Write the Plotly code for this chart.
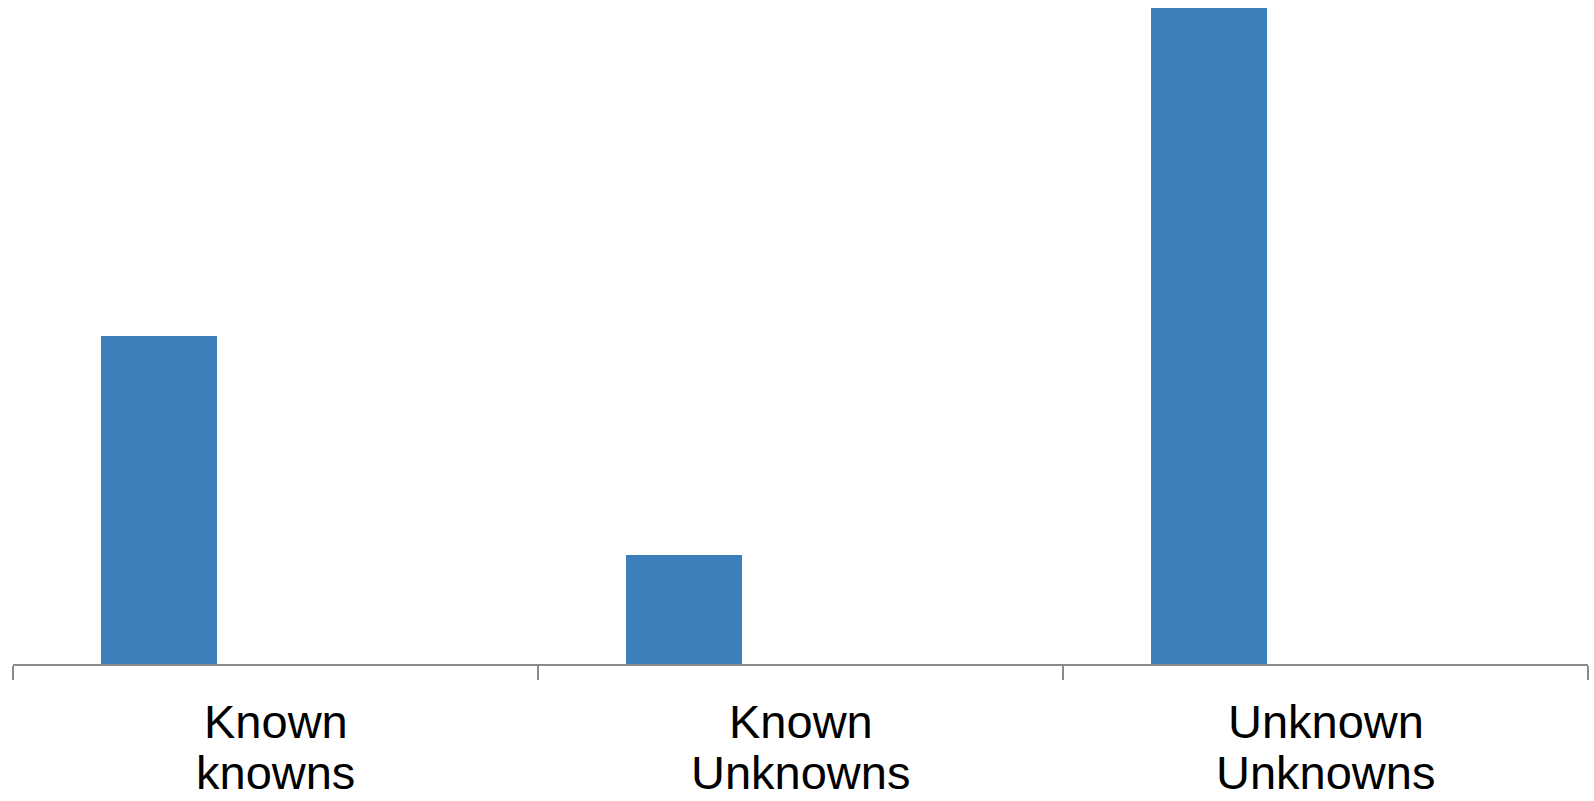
import plotly.graph_objects as go

# Categories and their values
categories = ["Known knowns", "Known Unknowns", "Unknown Unknowns"]
label_lines = [["Known", "knowns"], ["Known", "Unknowns"], ["Unknown", "Unknowns"]]
values = [3, 1, 6]

bar_color = "#3B80BA"
axis_color = "#8A8A8A"
label_font = dict(family="Liberation Sans, Arial, sans-serif", size=47, color="#000000")

fig = go.Figure()
fig.add_trace(go.Bar(
    x=categories,
    y=values,
    width=0.2222,
    offset=-0.3333,
    marker=dict(color=bar_color, line=dict(width=0)),
    showlegend=False,
    hoverinfo="x+y",
))

# Two-line category labels under the axis
for cat, lines in zip(categories, label_lines):
    for i, line in enumerate(lines):
        fig.add_annotation(
            x=cat, xref="x",
            y=0, yref="paper",
            text=line,
            showarrow=False,
            xanchor="center", yanchor="middle",
            yshift=-57 - 51.5 * i,
            font=label_font,
        )

fig.update_layout(
    width=1594, height=801,
    margin=dict(l=13, r=6, t=8, b=137),
    paper_bgcolor="white",
    plot_bgcolor="white",
    bargap=0,
)
fig.update_xaxes(
    type="category",
    range=[-0.5, 2.5],
    tickson="boundaries",
    ticks="outside",
    ticklen=14,
    tickwidth=1.5,
    tickcolor=axis_color,
    showline=True,
    linecolor=axis_color,
    linewidth=1.5,
    showgrid=False,
    showticklabels=False,
    zeroline=False,
)
fig.update_yaxes(
    range=[0, 6],
    visible=False,
    showgrid=False,
    zeroline=False,
)

fig.write_html("out.html")
